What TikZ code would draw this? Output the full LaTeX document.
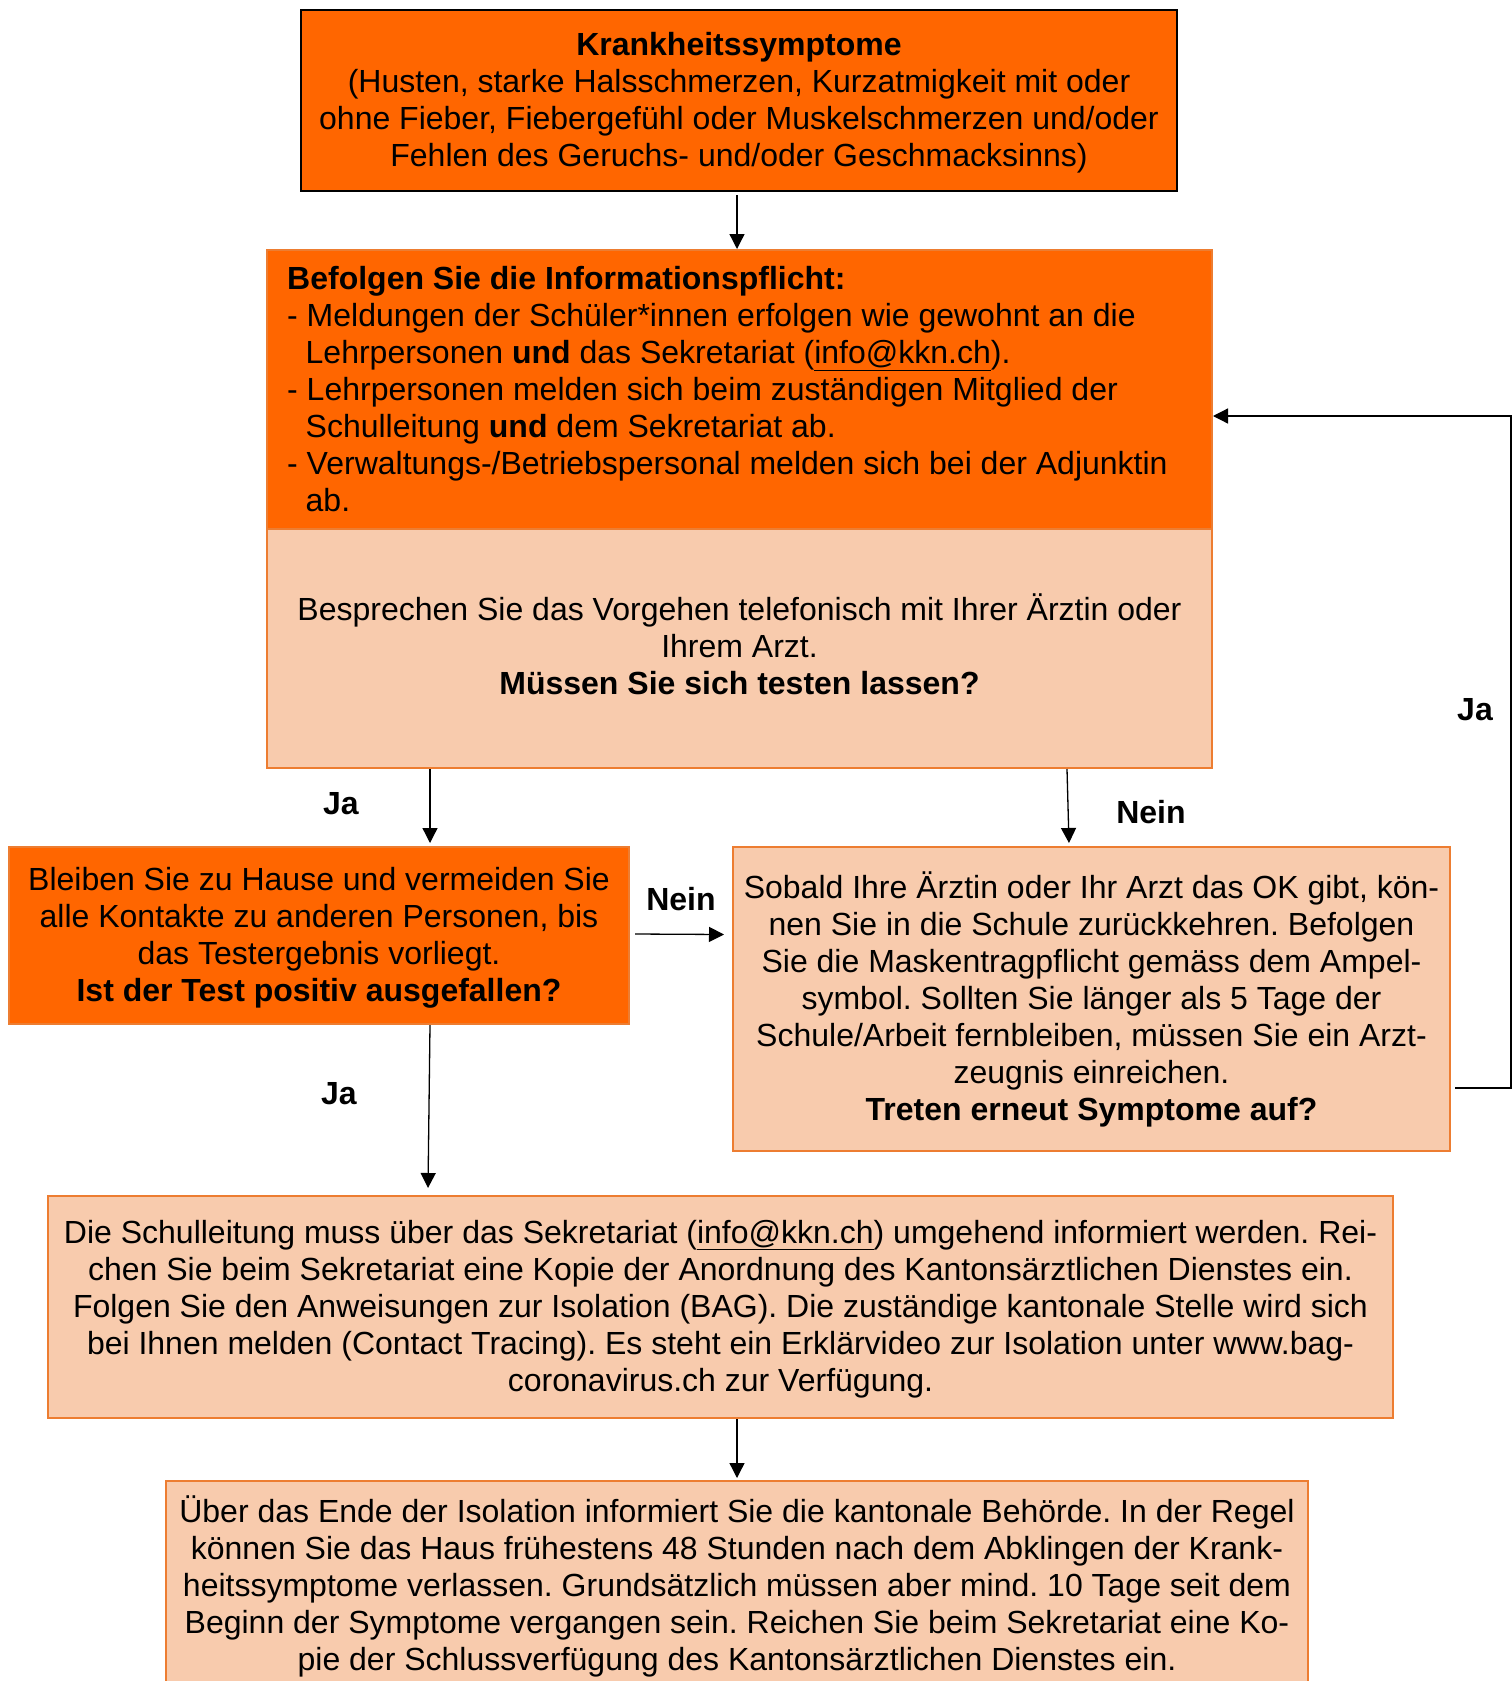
\documentclass[tikz,border=0pt]{standalone}
\usepackage{fontspec}
\setmainfont{Liberation Sans}
\usetikzlibrary{arrows.meta}
\definecolor{orng}{RGB}{255,102,0}
\definecolor{peach}{RGB}{248,203,173}
\definecolor{bord}{RGB}{237,125,49}
\frenchspacing
\begin{document}
\begin{tikzpicture}[x=1pt,y=-1pt,
  every node/.style={font=\fontsize{32}{37}\selectfont},
  box/.style={draw=bord, line width=2pt, inner sep=0pt, anchor=north west},
  hot/.style={box, fill=orng},
  soft/.style={box, fill=peach},
  txt/.style={align=center, inner sep=0pt},
  arr/.style={line width=1.3pt, -{Triangle[length=15pt,width=15pt]}},
  lbl/.style={font=\fontsize{32}{37}\selectfont\bfseries}]
\useasboundingbox (0,0) rectangle (1512,1681);
\clip (0,0) rectangle (1512,1681);

% boxes
\node[hot, draw=black, minimum width=876pt, minimum height=181pt] (top) at (300,9) {};
\node[hot, minimum width=945pt, minimum height=279pt] (b2a) at (266,249) {};
\node[soft, minimum width=945pt, minimum height=239pt] (b2b) at (266,528) {};
\node[hot, minimum width=620pt, minimum height=177pt] (b3) at (8,846) {};
\node[soft, minimum width=717pt, minimum height=304pt] (b4) at (732,846) {};
\node[soft, minimum width=1345pt, minimum height=222pt] (b5) at (47,1195) {};
\node[soft, minimum width=1142pt, minimum height=210pt] (b6) at (165,1480) {};

% texts
\node[txt] (ttop) at ([yshift=-2pt]top.center)
 {\textbf{Krankheitssymptome}\\
  (Husten, starke Halsschmerzen, Kurzatmigkeit mit oder\\
  ohne Fieber, Fiebergefühl oder Muskelschmerzen und/oder\\
  Fehlen des Geruchs- und/oder Geschmacksinns)};

\node[txt, align=left, anchor=west] (tb2a) at ([xshift=21pt]b2a.west)
 {\textbf{Befolgen Sie die Informationspflicht:}\\
  - Meldungen der Schüler*innen erfolgen wie gewohnt an die\\
  \hspace*{18.5pt}Lehrpersonen \textbf{und} das Sekretariat (\underline{info@kkn.ch}).\\
  - Lehrpersonen melden sich beim zuständigen Mitglied der\\
  \hspace*{18.5pt}Schulleitung \textbf{und} dem Sekretariat ab.\\
  - Verwaltungs-/Betriebspersonal melden sich bei der Adjunktin\\
  \hspace*{18.5pt}ab.};

\node[txt] (tb2b) at ([yshift=4pt]b2b.center)
 {Besprechen Sie das Vorgehen telefonisch mit Ihrer Ärztin oder\\
  Ihrem Arzt.\\
  \textbf{Müssen Sie sich testen lassen?}};

\node[txt] (tb3) at ([yshift=-2.5pt]b3.center)
 {Bleiben Sie zu Hause und vermeiden Sie\\
  alle Kontakte zu anderen Personen, bis\\
  das Testergebnis vorliegt.\\
  \textbf{Ist der Test positiv ausgefallen?}};

\node[txt] (tb4) at ([yshift=-0.5pt]b4.center)
 {Sobald Ihre Ärztin oder Ihr Arzt das OK gibt, kön-\\
  nen Sie in die Schule zurückkehren. Befolgen\\
  Sie die Maskentragpflicht gemäss dem Ampel-\\
  symbol. Sollten Sie länger als 5 Tage der\\
  Schule/Arbeit fernbleiben, müssen Sie ein Arzt-\\
  zeugnis einreichen.\\
  \textbf{Treten erneut Symptome auf?}};

\node[txt] (tb5) at ([yshift=-2.5pt]b5.center)
 {Die Schulleitung muss über das Sekretariat (\underline{info@kkn.ch}) umgehend informiert werden. Rei-\\
  chen Sie beim Sekretariat eine Kopie der Anordnung des Kantonsärztlichen Dienstes ein.\\
  Folgen Sie den Anweisungen zur Isolation (BAG). Die zuständige kantonale Stelle wird sich\\
  bei Ihnen melden (Contact Tracing). Es steht ein Erklärvideo zur Isolation unter www.bag-\\
  coronavirus.ch zur Verfügung.};

\node[txt] (tb6) at (b6.center)
 {Über das Ende der Isolation informiert Sie die kantonale Behörde. In der Regel\\
  können Sie das Haus frühestens 48 Stunden nach dem Abklingen der Krank-\\
  heitssymptome verlassen. Grundsätzlich müssen aber mind. 10 Tage seit dem\\
  Beginn der Symptome vergangen sein. Reichen Sie beim Sekretariat eine Ko-\\
  pie der Schlussverfügung des Kantonsärztlichen Dienstes ein.};

% labels
\node[lbl] (ja1) at (341,804) {Ja};
\node[lbl] (nein1) at (1151,812) {Nein};
\node[lbl] (nein2) at (681,899) {Nein};
\node[lbl] (ja2) at (1475,710) {Ja};
\node[lbl] (ja3) at (339,1094) {Ja};

% connectors
\draw[arr] ([xshift=-2pt,yshift=-3pt]top.south) -- ([xshift=-2.5pt]b2a.north);
\draw[arr] ([xshift=111pt]b3.north |- b2b.south) -- ([xshift=111pt,yshift=3pt]b3.north);
\draw[arr] ([xshift=-24.5pt]b4.north |- b2b.south) -- ([xshift=-22.5pt,yshift=3pt]b4.north);
\draw[arr] ([xshift=5pt,yshift=1.5pt]b3.east) -- ([xshift=-8pt,yshift=64.5pt]b4.west);
\draw[arr] ([xshift=4pt,yshift=-89pt]b4.east) -- ++(56,0) |- ([yshift=-26.5pt]b2a.east);
\draw[arr] ([xshift=111pt]b3.south) -- ([xshift=-292.5pt,yshift=7pt]b5.north);
\draw[arr] (b5.south -| b6.north) -- ([yshift=2pt]b6.north);
\end{tikzpicture}
\end{document}
